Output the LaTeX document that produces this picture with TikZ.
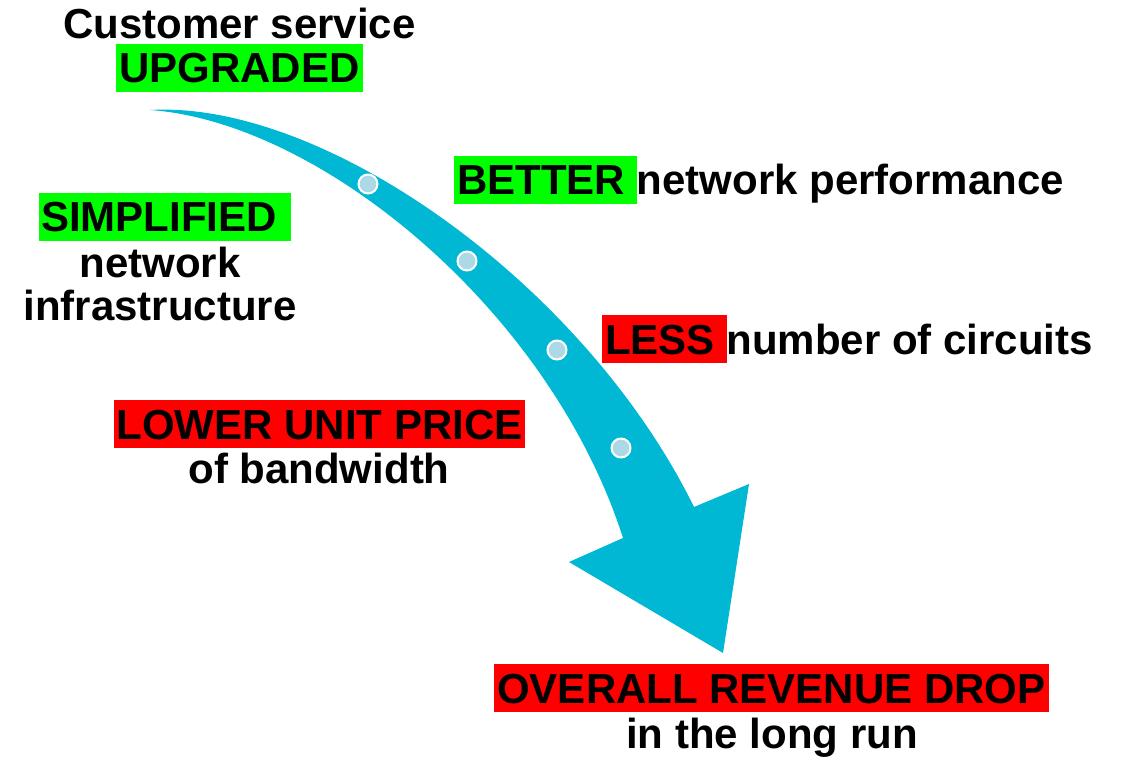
\documentclass[tikz,border=0pt]{standalone}
\usepackage{fontspec}
\setmainfont{Liberation Sans}
\definecolor{arrowcyan}{RGB}{0,184,212}
\definecolor{dotblue}{RGB}{173,216,230}
\definecolor{hlgreen}{RGB}{0,255,0}
\definecolor{hlred}{RGB}{255,0,0}
\newcommand{\hlbox}[4]{{\setlength{\fboxsep}{0pt}\colorbox{#1}{\rule[-0.22em]{0pt}{1.15em}\hspace{#2}#4\hspace{#3}}}}
\begin{document}
\begin{tikzpicture}[x=1pt,y=-1pt,
  lbl/.style={inner sep=0pt, font=\fontsize{42}{44}\selectfont\bfseries},
  dotnode/.style={circle, fill=dotblue, draw=white, line width=2pt, minimum size=19pt, inner sep=0pt}]
\useasboundingbox (0,0) rectangle (1125,762);
\fill[arrowcyan] (150,110) .. controls (325,100) and (585,285) .. (694,507)
  -- (749,484) -- (723,653) -- (569,562) -- (623,538)
  .. controls (550,310) and (320,122) .. (150,110) -- cycle;
\node[dotnode] (d1) at (368,184) {};
\node[dotnode] (d2) at (467,261) {};
\node[dotnode] (d3) at (557,350) {};
\node[dotnode] (d4) at (621,448) {};
\node[lbl, anchor=base] (cs) at (239.5,39) {Customer service};
\node[lbl, anchor=base] (up) at (239.5,83) {\hlbox{hlgreen}{3pt}{3pt}{UPGRADED}};
\node[lbl, anchor=base west] (simp) at (39,232) {\hlbox{hlgreen}{2pt}{2pt}{SIMPLIFIED\ }};
\node[lbl, anchor=base] (net) at (160,278) {network};
\node[lbl, anchor=base] (infra) at (160,320) {infrastructure};
\node[lbl, anchor=base west] (better) at (454,195) {\hlbox{hlgreen}{3pt}{0pt}{BETTER\ }network performance};
\node[lbl, anchor=base west] (less) at (602,354) {\hlbox{hlred}{3pt}{0pt}{LESS\ }number of circuits};
\node[lbl, anchor=base] (lower) at (319.5,439) {\hlbox{hlred}{3pt}{3pt}{LOWER UNIT PRICE}};
\node[lbl, anchor=base] (band) at (319,483) {of bandwidth};
\node[lbl, anchor=base] (over) at (771.5,703) {\hlbox{hlred}{3pt}{3pt}{OVERALL REVENUE DROP}};
\node[lbl, anchor=base] (run) at (772,748) {in the long run};
\end{tikzpicture}
\end{document}
